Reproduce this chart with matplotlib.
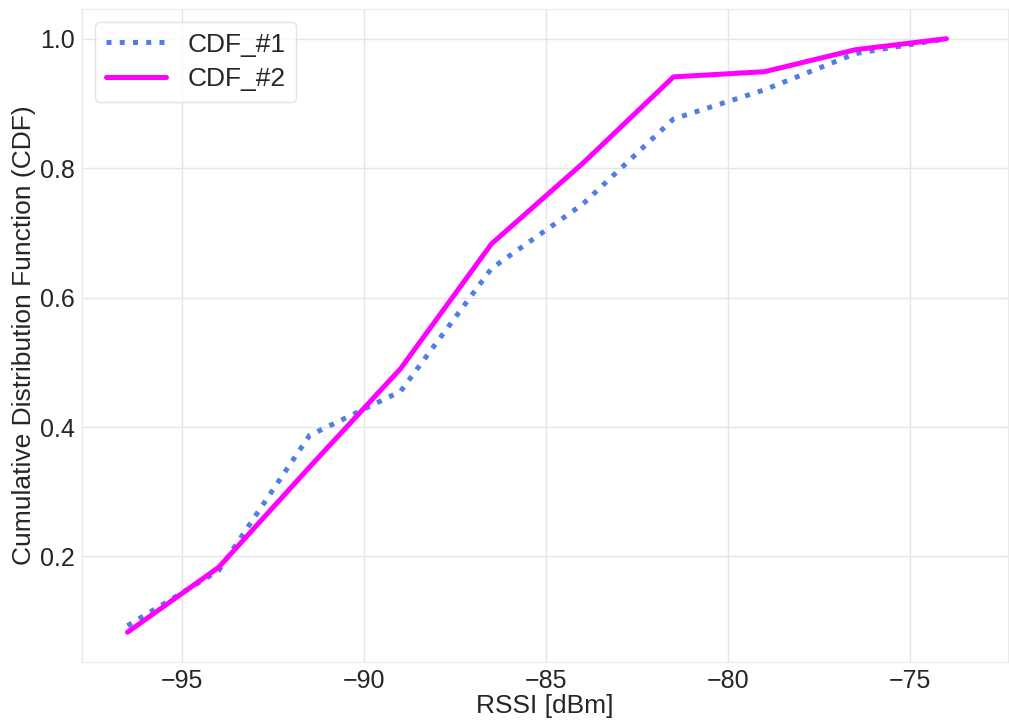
import matplotlib
matplotlib.use('Agg')
import matplotlib.pyplot as plt

# RSSI bins and the two CDF curves
rssi = [-96.5, -94, -91.5, -89, -86.5, -84, -81.5, -79, -76.5, -74]
cdf_1 = [0.093, 0.178, 0.387, 0.455, 0.645, 0.744, 0.876, 0.921, 0.977, 1.0]
cdf_2 = [0.083, 0.183, 0.338, 0.490, 0.683, 0.807, 0.941, 0.949, 0.983, 1.0]

plt.style.use('seaborn-v0_8-whitegrid')
plt.rcParams['font.family'] = ['Liberation Sans', 'DejaVu Sans']

fig = plt.figure(figsize=(10.09, 7.2), dpi=100)
ax = fig.add_axes([0.0813, 0.0806, 0.918, 0.907])

ax.plot(rssi, cdf_1, linestyle=':', color='#4f7fe3', linewidth=3.6, label='CDF_#1')
ax.plot(rssi, cdf_2, linestyle='-', color='#ff00ff', linewidth=3.6, label='CDF_#2')

ax.set_xlim(-97.75, -72.3)
ax.set_ylim(0.037, 1.046)
ax.set_xticks([-95, -90, -85, -80, -75])
ax.set_yticks([0.2, 0.4, 0.6, 0.8, 1.0])
ax.tick_params(labelsize=18, colors='#262626', length=0, pad=5)
ax.grid(True, color='#e5e5e5', linewidth=1)
for s in ax.spines.values():
    s.set_visible(True)
    s.set_color('#ebebeb')
    s.set_linewidth(1)

ax.set_xlabel('RSSI [dBm]', fontsize=19, color='#262626', labelpad=1)
ax.set_ylabel('Cumulative Distribution Function (CDF)', fontsize=19, color='#262626', labelpad=3)

leg = ax.legend(loc='upper left', fontsize=19, frameon=True, fancybox=True,
                handlelength=2.3, borderpad=0.4, labelspacing=0.4)
leg.get_frame().set_edgecolor('#dddddd')
leg.get_frame().set_facecolor('white')
for t in leg.get_texts():
    t.set_color('#262626')

fig.savefig('out.png', dpi=100)
